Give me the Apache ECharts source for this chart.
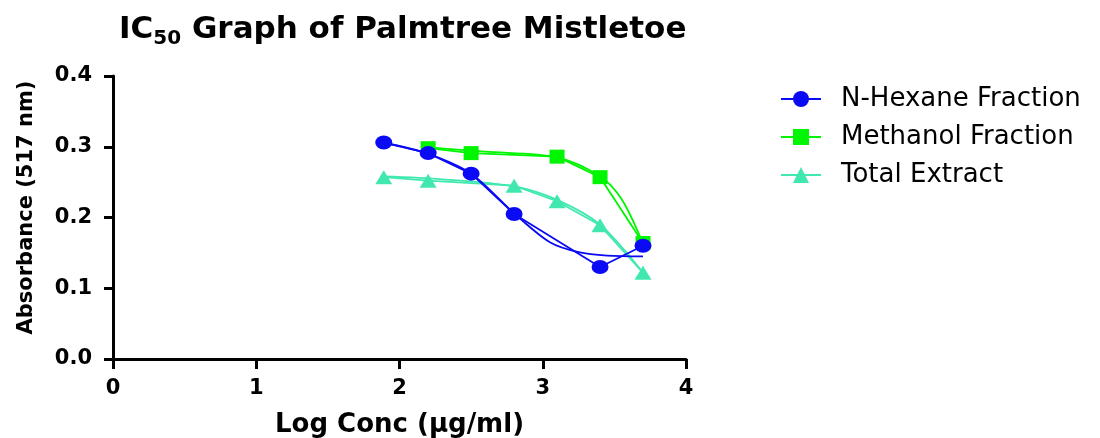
<!DOCTYPE html>
<html>
<head>
<meta charset="utf-8">
<script src="https://cdn.jsdelivr.net/npm/echarts@6/dist/echarts.min.js"></script>
<style>
html,body{margin:0;padding:0;background:#fff;}
#chart{width:1100px;height:438px;}
</style>
</head>
<body>
<div id="chart"></div>
<script>
// ---- data ----
var seriesNames = ['N-Hexane Fraction', 'Methanol Fraction', 'Total Extract'];
var xTicks = [0, 1, 2, 3, 4];
var yTicks = [0.0, 0.1, 0.2, 0.3, 0.4];

var hexaneX = [1.89, 2.2, 2.5, 2.8, 3.4, 3.7];
var hexaneY = [0.306, 0.291, 0.262, 0.205, 0.130, 0.160];
var methanolX = [2.2, 2.5, 3.1, 3.4, 3.7];
var methanolY = [0.298, 0.291, 0.286, 0.257, 0.164];
var totalX = [1.89, 2.2, 2.8, 3.1, 3.4, 3.7];
var totalY = [0.257, 0.252, 0.245, 0.223, 0.189, 0.122];

// fitted curves
var hexaneFitX = [1.89, 2.2, 2.5, 2.8, 3.05, 3.25, 3.45, 3.7];
var hexaneFitY = [0.306, 0.290, 0.262, 0.206, 0.165, 0.151, 0.146, 0.145];
var methanolFitX = [2.2, 2.6, 3.1, 3.4, 3.55, 3.7];
var methanolFitY = [0.299, 0.293, 0.285, 0.258, 0.226, 0.163];
var totalFitX = [1.89, 2.3, 2.8, 3.1, 3.4, 3.7];
var totalFitY = [0.258, 0.254, 0.244, 0.225, 0.190, 0.122];

var colors = ['#0a0af5', '#00f500', '#40e8b0'];

function pairs(xs, ys) { return xs.map(function (x, i) { return [x, ys[i]]; }); }

var FONT = 'DejaVu Sans';
var chart = echarts.init(document.getElementById('chart'), null, {renderer: 'canvas'});

function pointSeries(name, xs, ys, color, symbol, size, z) {
  return {
    name: name, type: 'line', data: pairs(xs, ys), symbol: symbol, symbolSize: size,
    itemStyle: {color: color}, lineStyle: {color: color, width: 1.8}, z: z,
    animation: false
  };
}
function fitSeries(name, xs, ys, color, z) {
  return {
    name: name + ' fit', type: 'line', data: pairs(xs, ys), smooth: 0.3,
    showSymbol: false, symbol: 'none', lineStyle: {color: color, width: 1.8}, z: z,
    animation: false, silent: true
  };
}

var option = {
  backgroundColor: '#fff',
  animation: false,
  title: {
    text: '{t|IC}{s|50}{t| Graph of Palmtree Mistletoe}',
    left: 114, top: 6,
    textStyle: {
      rich: {
        t: {fontFamily: FONT, fontWeight: 'bold', fontSize: 31, color: '#000', lineHeight: 38},
        s: {fontFamily: FONT, fontWeight: 'bold', fontSize: 20, color: '#000', lineHeight: 20, verticalAlign: 'bottom'}
      }
    }
  },
  legend: {
    data: seriesNames,
    orient: 'vertical', left: 775, top: 81,
    itemWidth: 40, itemHeight: 20, itemGap: 12,
    textStyle: {fontFamily: FONT, fontSize: 26, color: '#000', lineHeight: 25, padding: [0, 0, 0, 15]}
  },
  grid: {left: 113, top: 76, width: 573, height: 283, containLabel: false, outerBoundsMode: 'none'},
  xAxis: {
    type: 'value', min: xTicks[0], max: xTicks[xTicks.length - 1], interval: 1,
    name: 'Log Conc (µg/ml)', nameLocation: 'middle', nameGap: 53,
    nameTextStyle: {fontFamily: FONT, fontWeight: 'bold', fontSize: 26, color: '#000'},
    axisLine: {show: true, lineStyle: {color: '#000', width: 3}},
    axisTick: {show: true, length: 10, lineStyle: {color: '#000', width: 3}},
    axisLabel: {fontFamily: FONT, fontWeight: 'bold', fontSize: 21, color: '#000', margin: 19},
    splitLine: {show: false}
  },
  yAxis: {
    type: 'value', min: yTicks[0], max: yTicks[yTicks.length - 1], interval: 0.1,
    name: 'Absorbance (517 nm)', nameLocation: 'middle', nameGap: 76,
    nameTextStyle: {fontFamily: FONT, fontWeight: 'bold', fontSize: 21, color: '#000', padding: [0, 0, 0, 20]},
    axisLine: {show: true, onZero: false, lineStyle: {color: '#000', width: 3}},
    axisTick: {show: true, length: 9, lineStyle: {color: '#000', width: 3}},
    axisLabel: {fontFamily: FONT, fontWeight: 'bold', fontSize: 21, color: '#000', margin: 21,
      formatter: function (v) { return v.toFixed(1); }},
    splitLine: {show: false}
  },
  series: [
    fitSeries(seriesNames[2], totalFitX, totalFitY, colors[2], 2),
    pointSeries(seriesNames[2], totalX, totalY, colors[2], 'triangle', [17, 14], 3),
    fitSeries(seriesNames[1], methanolFitX, methanolFitY, colors[1], 4),
    pointSeries(seriesNames[1], methanolX, methanolY, colors[1], 'rect', [15, 14], 5),
    fitSeries(seriesNames[0], hexaneFitX, hexaneFitY, colors[0], 6),
    pointSeries(seriesNames[0], hexaneX, hexaneY, colors[0], 'circle', [17, 14], 7)
  ]
};
chart.setOption(option);
</script>
</body>
</html>
